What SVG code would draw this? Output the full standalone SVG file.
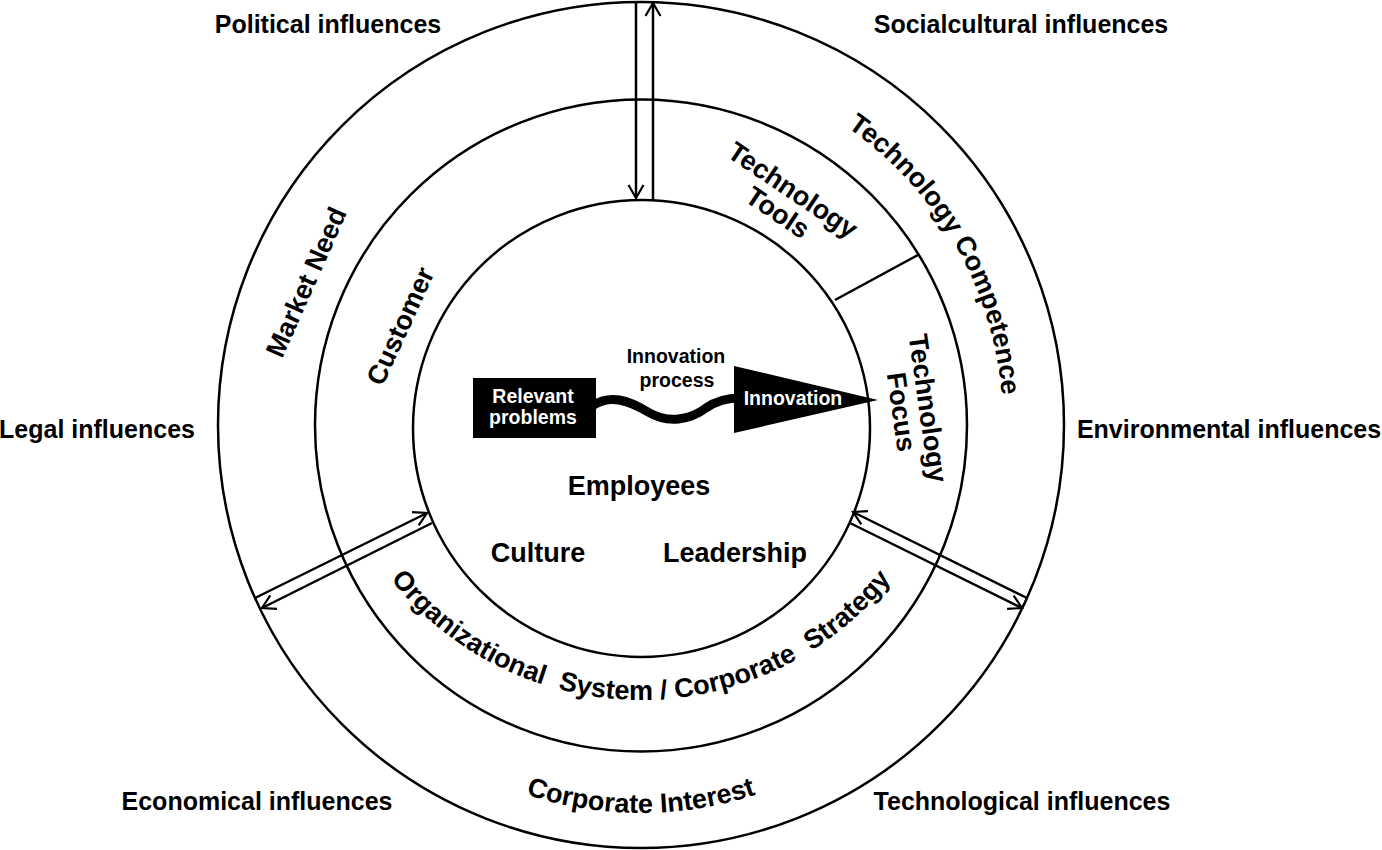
<svg xmlns="http://www.w3.org/2000/svg" width="1382" height="850" viewBox="0 0 1382 850">
  <style>
    .ring { fill: none; stroke: #000; stroke-width: 2.5; }
    .ln { fill: none; stroke: #000; stroke-width: 2.5; }
    .t { font-family: "Liberation Sans", Arial, sans-serif; font-weight: bold; fill: #000; text-anchor: middle; }
    .outer { font-size: 25px; }
    .big { font-size: 27px; }
    .small { font-size: 19.5px; }
    .w { fill: #fff; }
  </style>
  <defs>
    <marker id="arr" viewBox="0 0 16 18" refX="14" refY="9" markerWidth="16" markerHeight="18" orient="auto" markerUnits="userSpaceOnUse">
      <path d="M1,1.5 L14,9 L1,16.5" fill="none" stroke="#000" stroke-width="2.2" stroke-linejoin="miter"/>
    </marker>
    <path id="arcCompetence" d="M 734.7 75.3 A 362 362 0 0 1 990.7 518.7"/>
    <path id="arcOrg" d="M 378.9 563.5 A 320 320 0 0 0 903.1 563.5"/>
    <path id="arcInterest" d="M 457.5 763.8 A 367 367 0 0 0 824.5 763.8"/>
  </defs>
  <rect width="1382" height="850" fill="#fff"/>

  <!-- concentric rings -->
  <g id="outer-ring"><circle class="ring" cx="641" cy="425" r="423"/></g>
  <g id="middle-ring"><circle class="ring" cx="641" cy="425.5" r="326"/></g>
  <g id="inner-ring"><circle class="ring" cx="641.5" cy="428.5" r="228.5"/></g>

  <!-- connectors and dividers -->
  <g id="connectors">
    <line class="ln" x1="636" y1="1" x2="636" y2="198" marker-end="url(#arr)"/>
    <line class="ln" x1="653" y1="200" x2="653" y2="3" marker-end="url(#arr)"/>
    <line class="ln" x1="255" y1="598" x2="427" y2="513" marker-end="url(#arr)"/>
    <line class="ln" x1="432" y1="523" x2="262" y2="608" marker-end="url(#arr)"/>
    <line class="ln" x1="1027" y1="598" x2="853" y2="512" marker-end="url(#arr)"/>
    <line class="ln" x1="850" y1="523" x2="1022" y2="608" marker-end="url(#arr)"/>
    <line class="ln" x1="835" y1="300" x2="918" y2="255"/>
  </g>

  <!-- surrounding influences -->
  <g id="political"><text class="t outer" x="328" y="33">Political influences</text></g>
  <g id="socialcultural"><text class="t outer" x="1021" y="33">Socialcultural influences</text></g>
  <g id="legal"><text class="t outer" x="97" y="438">Legal influences</text></g>
  <g id="environmental"><text class="t outer" x="1229" y="438">Environmental influences</text></g>
  <g id="economical"><text class="t outer" x="257" y="810">Economical influences</text></g>
  <g id="technological"><text class="t outer" x="1022" y="810">Technological influences</text></g>

  <!-- outer ring sectors -->
  <g id="market-need"><text class="t big" transform="translate(306,282) rotate(-66)" x="0" y="9.5">Market Need</text></g>
  <g id="technology-competence">
    <text class="t big"><textPath href="#arcCompetence" startOffset="50%">Technology Competence</textPath></text>
  </g>
  <g id="corporate-interest">
    <text class="t big"><textPath href="#arcInterest" startOffset="50%">Corporate Interest</textPath></text>
  </g>

  <!-- middle ring sectors -->
  <g id="customer"><text class="t big" transform="translate(400,326) rotate(-65.5)" x="0" y="9.5">Customer</text></g>
  <g id="technology-tools">
    <text class="t big" transform="translate(785.5,201) rotate(34)"><tspan x="0" y="-4">Technology</tspan><tspan x="0" y="23">Tools</tspan></text>
  </g>
  <g id="technology-focus">
    <text class="t big" transform="translate(915,410) rotate(82)"><tspan x="0" y="-4">Technology</tspan><tspan x="0" y="23">Focus</tspan></text>
  </g>
  <g id="organizational-system">
    <text class="t big"><textPath href="#arcOrg" startOffset="50%">Organizational<tspan dx="8"> System</tspan> / Corporate<tspan dx="8"> Strategy</tspan></textPath></text>
  </g>

  <!-- core -->
  <g id="employees"><text class="t big" x="639" y="495">Employees</text></g>
  <g id="culture"><text class="t big" x="538" y="562">Culture</text></g>
  <g id="leadership"><text class="t big" x="735" y="562">Leadership</text></g>

  <!-- innovation process -->
  <g id="innovation-process">
    <path d="M 592 406 C 610 394, 628 400, 648 412 C 668 424, 690 420, 706 408 C 716 401, 728 398, 740 398" fill="none" stroke="#000" stroke-width="9"/>
    <text class="t small" x="676" y="363">Innovation</text>
    <text class="t small" x="677" y="387">process</text>
  </g>
  <g id="relevant-problems">
    <rect x="473" y="378" width="123" height="60" fill="#000"/>
    <text class="t small w" x="533" y="403">Relevant</text>
    <text class="t small w" x="533" y="424">problems</text>
  </g>
  <g id="innovation">
    <polygon points="734,366 734,433 878,400" fill="#000"/>
    <text class="t small w" x="793" y="405">Innovation</text>
  </g>
</svg>
